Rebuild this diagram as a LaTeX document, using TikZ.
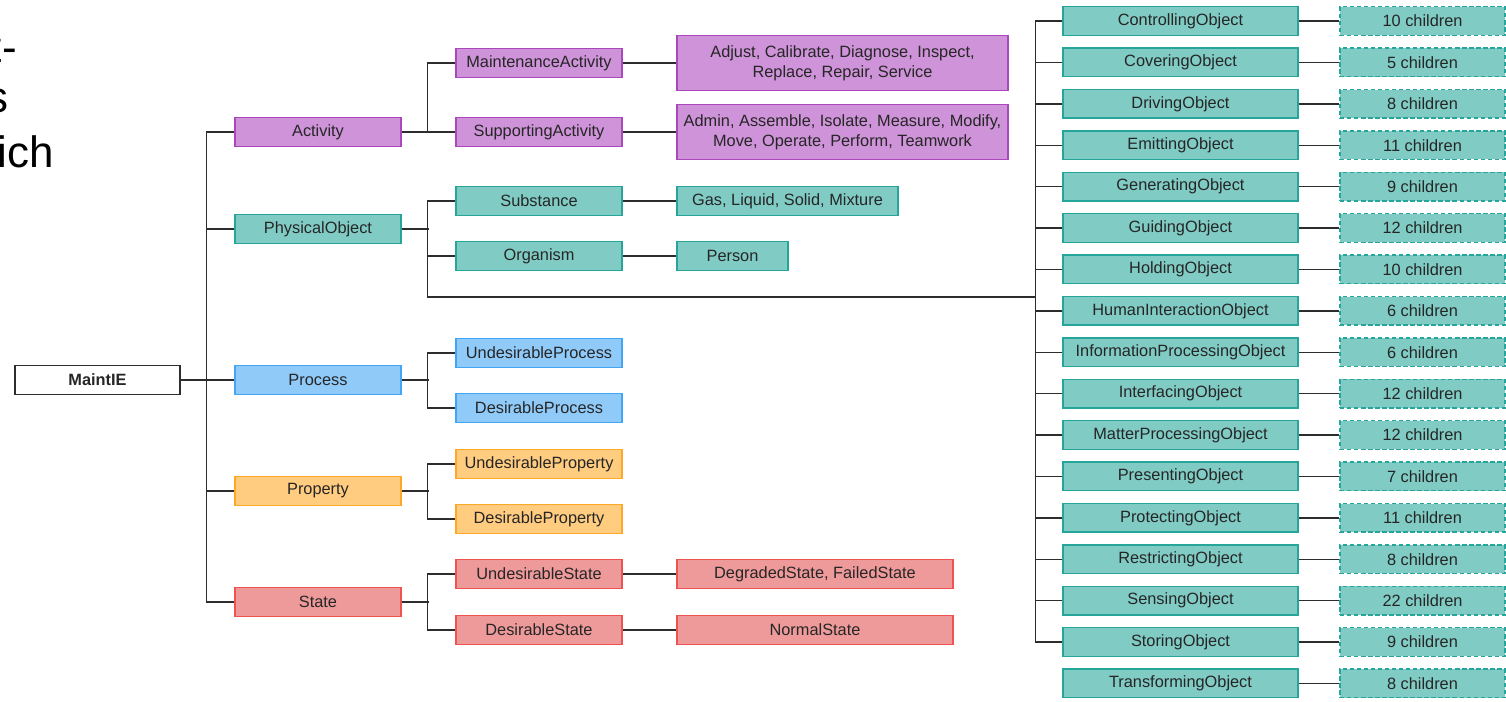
\documentclass[tikz,border=0pt]{standalone}
\usepackage{fontspec}
\setmainfont{Liberation Sans}
\usetikzlibrary{positioning,calc}

\definecolor{actfill}{RGB}{206,147,216}
\definecolor{actdraw}{RGB}{171,71,188}
\definecolor{physfill}{RGB}{128,203,196}
\definecolor{physdraw}{RGB}{38,166,154}
\definecolor{procfill}{RGB}{144,202,249}
\definecolor{procdraw}{RGB}{66,165,245}
\definecolor{propfill}{RGB}{255,204,128}
\definecolor{propdraw}{RGB}{255,167,38}
\definecolor{statfill}{RGB}{239,154,154}
\definecolor{statdraw}{RGB}{239,83,80}
\definecolor{wire}{RGB}{45,45,45}

\begin{document}
\begin{tikzpicture}[x=0.02cm, y=-0.02cm,
            every node/.style={font=\fontsize{9.3}{11.5}\selectfont, text=black!85, inner sep=0pt},
            box/.style={draw, line width=0.8pt, minimum height=0.57cm, align=center},
            lvl/.style={minimum width=3.32cm},
            act/.style={box, fill=actfill, draw=actdraw},
            phys/.style={box, fill=physfill, draw=physdraw},
            proc/.style={box, fill=procfill, draw=procdraw},
            prop/.style={box, fill=propfill, draw=propdraw},
            stat/.style={box, fill=statfill, draw=statdraw},
            kids/.style={phys, dash pattern=on 2.5pt off 1.5pt, minimum width=3.3cm},
            link/.style={draw=wire, line width=0.8pt}]
        \useasboundingbox (0,0) rectangle (1506,701);

        % cut-off text at the left border
        \begin{scope}[every node/.style={font=\fontsize{25}{30}\selectfont, anchor=base east, inner sep=0pt}]
            \node (frag1) at (17,62) {t-};
            \node (frag2) at (9,112) {s};
            \node (frag3) at (54,167) {ich};
        \end{scope}

        \node[box, fill=white, draw=wire, minimum width=3.3cm, font=\fontsize{9.3}{11.5}\selectfont\bfseries] (root) at (97.5,380) {MaintIE};

        % top level
        \node[act, lvl] (activity) at (318,132) {Activity};
        \node[phys, lvl] (physobj) at (318,229) {PhysicalObject};
        \node[proc, lvl] (process) at (318,380) {Process};
        \node[prop, lvl] (property) at (318,491) {Property};
        \node[stat, lvl] (state) at (318,602) {State};

        % second level
        \node[act, lvl] (maintact) at (539,63) {MaintenanceActivity};
        \node[act, lvl] (suppact) at (539,132) {SupportingActivity};
        \node[phys, lvl] (substance) at (539,201) {Substance};
        \node[phys, lvl] (organism) at (539,256) {Organism};
        \node[proc, lvl] (undproc) at (539,353) {UndesirableProcess};
        \node[proc, lvl] (desproc) at (539,408) {DesirableProcess};
        \node[prop, lvl] (undprop) at (539,464) {UndesirableProperty};
        \node[prop, lvl] (desprop) at (539,519) {DesirableProperty};
        \node[stat, lvl] (undstate) at (539,574) {UndesirableState};
        \node[stat, lvl] (desstate) at (539,630) {DesirableState};

        % leaves
        \node[act, minimum width=6.62cm, minimum height=1.1cm] (maintlist) at (842.5,63) {Adjust, Calibrate, Diagnose, Inspect,\\Replace, Repair, Service};
        \node[act, minimum width=6.62cm, minimum height=1.1cm] (supplist) at (842.5,132) {Admin, Assemble, Isolate, Measure, Modify,\\Move, Operate, Perform, Teamwork};
        \node[phys, minimum width=4.42cm] (sublist) at (787.5,201) {Gas, Liquid, Solid, Mixture};
        \node[phys, minimum width=2.22cm] (person) at (732.5,256) {Person};
        \node[stat, minimum width=5.52cm] (badstates) at (815,574) {DegradedState, FailedState};
        \node[stat, minimum width=5.52cm] (normal) at (815,630) {NormalState};

        % physical object classes
        \foreach \obj/\num [count=\i] in {Controlling/10, Covering/5, Driving/8, Emitting/11,
                Generating/9, Guiding/12, Holding/10, HumanInteraction/6, InformationProcessing/6,
                Interfacing/12, MatterProcessing/12, Presenting/7, Protecting/11, Restricting/8,
                Sensing/22, Storing/9, Transforming/8}{
            \node[phys, minimum width=4.7cm] (obj\i) at (1180.5,{21+41.4*(\i-1)}) {\obj Object};
            \node[kids] (kid\i) at (1422.5,{21+41.4*(\i-1)}) {\num\ children};
            \draw[link] (obj\i) -- (kid\i);
        }
        \coordinate (junction) at (1036,297);

        \draw[link] (root) -- (process);
        \draw[link] (activity.west) -- ++(-28,0) |- (state.west);
        \foreach \n in {physobj, property}
            \draw[link] (\n.west) -- ++(-28,0);

        \draw[link] (maintact.west) -- ++(-28,0) |- (activity.east);
        \draw[link] (activity) -- (suppact);
        \draw[link] (physobj.east) -- ++(27,0);
        \draw[link] (substance.west) -- ++(-28,0) |- (junction);
        \draw[link] (organism.west) -- ++(-28,0);
        \draw[link] (process.east) -- ++(27,0);
        \draw[link] (undproc.west) -- ++(-28,0) |- (desproc.west);
        \draw[link] (property.east) -- ++(27,0);
        \draw[link] (undprop.west) -- ++(-28,0) |- (desprop.west);
        \draw[link] (state.east) -- ++(27,0);
        \draw[link] (undstate.west) -- ++(-28,0) |- (desstate.west);

        \draw[link] (maintact) -- (maintlist);
        \draw[link] (suppact) -- (supplist);
        \draw[link] (substance) -- (sublist);
        \draw[link] (organism) -- (person);
        \draw[link] (undstate) -- (badstates);
        \draw[link] (desstate) -- (normal);

        \draw[link] (obj1.west) -- ++(-27,0) |- (obj16.west);
        \foreach \i in {2,...,15}
            \draw[link] (obj\i.west) -- ++(-27,0);
\end{tikzpicture}
\end{document}
